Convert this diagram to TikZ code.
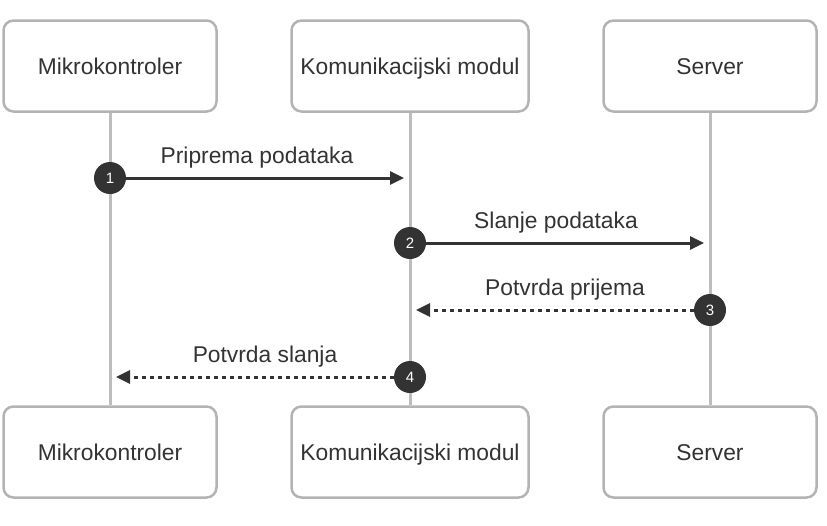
\documentclass[tikz,border=0pt]{standalone}
\usepackage{fontspec}
\setmainfont{Liberation Sans}
\usepackage{xcolor}
\usetikzlibrary{arrows.meta}
\definecolor{boxgray}{HTML}{B3B3B3}
\definecolor{lifegray}{HTML}{BDBDBD}
\definecolor{ink}{HTML}{333333}

\begin{document}
\begin{tikzpicture}[x=1pt, y=-1pt,
	every node/.style={font=\fontsize{22.8}{27}\selectfont, text=ink},
	actor/.style={draw=boxgray, line width=2.5pt, rounded corners=10pt, fill=white, minimum height=91pt, inner sep=0pt, text height=18pt, text depth=2pt},
	life/.style={draw=lifegray, line width=3pt},
	num/.style={circle, fill=ink, minimum size=32pt, inner sep=0pt, text=white, font=\fontsize{15}{17}\selectfont},
	msg/.style={draw=ink, line width=3pt, -{Triangle[length=14pt,width=13pt]}},
	reply/.style={msg, dash pattern=on 4pt off 4pt}]
	\useasboundingbox (0,0) rectangle (827,525);
	
	% Participants on top and bottom, joined by their lifelines
	\foreach \id/\xpos/\boxw/\name in {1/110/213/Mikrokontroler, 2/410/237/Komunikacijski modul, 3/710/213/Server} {
		\node[actor, minimum width=\boxw] (t\id) at (\xpos,66) {\name};
		\node[actor, minimum width=\boxw] (b\id) at (\xpos,452) {\name};
		\draw[life] (t\id) -- (b\id);
	}
	
	% Numbered messages between the lifelines
	\foreach \id/\xs/\xe/\ypos/\st/\lx/\txt in {1/110/404/178/msg/257/Priprema podataka, 2/410/704/243/msg/556/Slanje podataka, 3/710/416/310/reply/565/Potvrda prijema, 4/410/116/377/reply/265/Potvrda slanja} {
		\node[num] (n\id) at (\xs,\ypos) {\id};
		\coordinate (e\id) at (\xe,\ypos);
		\draw[\st] (n\id) -- (e\id);
		\node[anchor=base] (l\id) at (\lx,\ypos-15) {\txt};
	}
\end{tikzpicture}
\end{document}
